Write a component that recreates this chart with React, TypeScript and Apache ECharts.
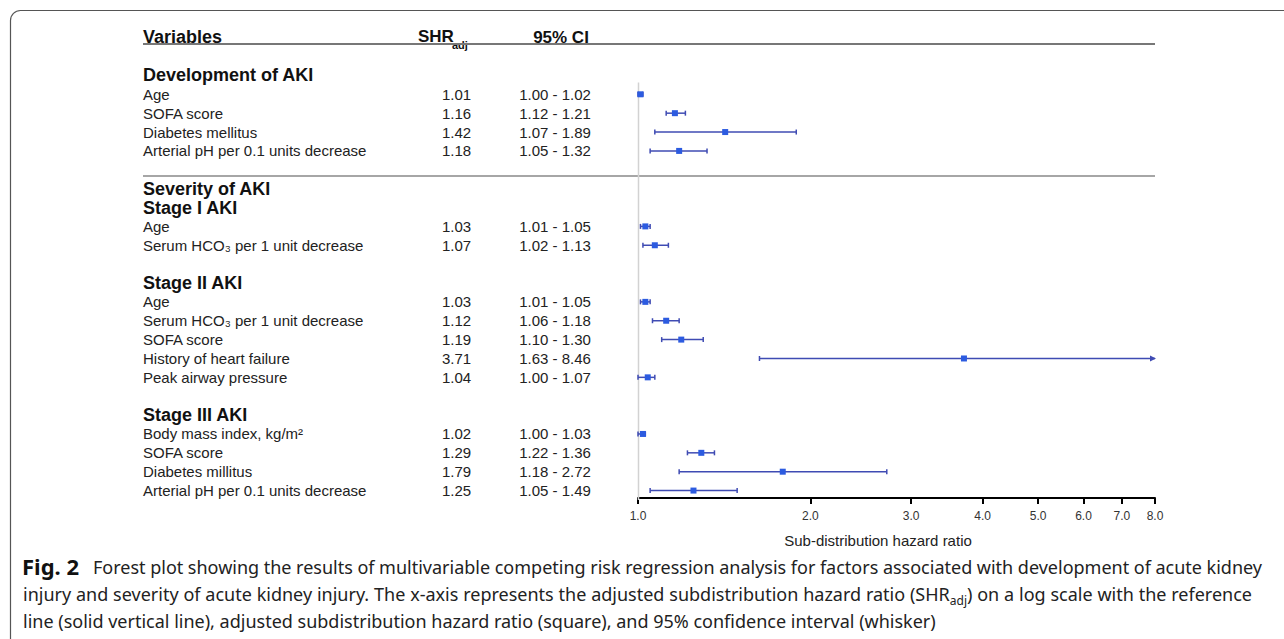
import React, { useEffect, useRef } from 'react';
import * as echarts from 'echarts';

const variables = [
  'Development of AKI', 'Age', 'SOFA score', 'Diabetes mellitus', 'Arterial pH per 0.1 units decrease', '',
  'Severity of AKI', 'Stage I AKI', 'Age', 'Serum HCO₃ per 1 unit decrease', '',
  'Stage II AKI', 'Age', 'Serum HCO₃ per 1 unit decrease', 'SOFA score', 'History of heart failure', 'Peak airway pressure', '',
  'Stage III AKI', 'Body mass index, kg/m²', 'SOFA score', 'Diabetes millitus', 'Arterial pH per 0.1 units decrease',
];
const rowKinds = ['h', 'v', 'v', 'v', 'v', 'b', 'h', 'h', 'v', 'v', 'b', 'h', 'v', 'v', 'v', 'v', 'v', 'b', 'h', 'v', 'v', 'v', 'v'];
const shrValues = [null, 1.01, 1.16, 1.42, 1.18, null, null, null, 1.03, 1.07, null, null, 1.03, 1.12, 1.19, 3.71, 1.04, null, null, 1.02, 1.29, 1.79, 1.25];
const ciLower = [null, 1.0, 1.12, 1.07, 1.05, null, null, null, 1.01, 1.02, null, null, 1.01, 1.06, 1.1, 1.63, 1.0, null, null, 1.0, 1.22, 1.18, 1.05];
const ciUpper = [null, 1.02, 1.21, 1.89, 1.32, null, null, null, 1.05, 1.13, null, null, 1.05, 1.18, 1.3, 8.46, 1.07, null, null, 1.03, 1.36, 2.72, 1.49];
const xTicks = [1, 2, 3, 4, 5, 6, 7, 8];

const captionFig = 'Fig. 2';
const captionLine1 = 'Forest plot showing the results of multivariable competing risk regression analysis for factors associated with development of acute kidney';
const captionLine2 = 'injury and severity of acute kidney injury. The x-axis represents the adjusted subdistribution hazard ratio (SHR_adj) on a log scale with the reference';
const captionLine3 = 'line (solid vertical line), adjusted subdistribution hazard ratio (square), and 95% confidence interval (whisker)';

const FONT = '"Liberation Sans", Arial, sans-serif';
const CAP_FAMILY = '"Noto Sans", "Open Sans", sans-serif';

export default function App() {
  const ref = useRef<HTMLDivElement>(null);
  useEffect(() => {
    document.body.style.margin = '0';
    if (!ref.current) return;
    const chart = echarts.init(ref.current, null, { renderer: 'svg' });

    // ---- caption layout (justified lines like the journal figure) ----
    const ctx = document.createElement('canvas').getContext('2d') as CanvasRenderingContext2D;
    const measure = (t: string, f: string) => { ctx.font = f; return ctx.measureText(t).width; };
    const fR = `18px ${CAP_FAMILY}`;
    const fB = `bold 22px ${CAP_FAMILY}`;
    const fS = `12px ${CAP_FAMILY}`;
    const capEls: any[] = [];
    const wordEl = (w: string, y: number) => {
      if (w.includes('_')) {
        const [a, b] = w.split('_');
        const i = b.indexOf(')');
        const sub = b.slice(0, i);
        const rest = b.slice(i);
        return {
          el: {
            type: 'text', x: 0, y,
            style: {
              text: `{r|${a}}{s|${sub}}{r|${rest}}`, verticalAlign: 'middle',
              rich: {
                r: { font: fR, fill: '#222', lineHeight: 24, verticalAlign: 'middle' },
                s: { font: fS, fill: '#222', lineHeight: 12, verticalAlign: 'bottom' },
              },
            },
          } as any,
          w: measure(a, fR) + measure(sub, fS) + measure(rest, fR),
        };
      }
      return {
        el: { type: 'text', x: 0, y, style: { text: w, font: fR, fill: '#222', verticalAlign: 'middle' } } as any,
        w: measure(w, fR),
      };
    };
    const justify = (words: string[], x0: number, x1: number, y: number) => {
      const items = words.map((w) => wordEl(w, y));
      const natural = items.reduce((s, it) => s + it.w, 0);
      const gap = (x1 - x0 - natural) / (items.length - 1);
      let x = x0;
      items.forEach((it) => { it.el.x = x; capEls.push(it.el); x += it.w + gap; });
    };
    capEls.push({ type: 'text', x: 22, y: 566, style: { text: captionFig, font: fB, fill: '#111', verticalAlign: 'middle' } });
    justify(captionLine1.split(' '), 93, 1262, 567);
    justify(captionLine2.split(' '), 23, 1252, 594);
    capEls.push({ type: 'text', x: 23, y: 621, style: { text: captionLine3, font: fR, fill: '#222', verticalAlign: 'middle' } });

    const cats = variables.map((_, i) => String(i));
    const forestData: number[][] = [];
    shrValues.forEach((v, i) => {
      if (v != null) forestData.push([Math.log2(v), i, ciLower[i] as number, ciUpper[i] as number]);
    });
    const lineColor = '#3f4bb3';
    const sqColor = '#2c5be0';
    const option: any = {
      animation: false,
      backgroundColor: '#fff',
      grid: { left: 638, right: 129, top: 66, height: 434 },
      xAxis: {
        type: 'value',
        min: 0,
        max: 3,
        offset: -2,
        splitLine: { show: false },
        axisLine: { show: true, lineStyle: { color: '#000', width: 2 } },
        axisTick: { show: true, length: 6, lineStyle: { color: '#000', width: 2 }, customValues: xTicks.map((t) => Math.log2(t)) },
        axisLabel: {
          customValues: xTicks.map((t) => Math.log2(t)),
          formatter: (v: number) => Math.pow(2, v).toFixed(1),
          fontFamily: FONT, fontSize: 12, color: '#333', margin: 12,
        },
        name: 'Sub-distribution hazard ratio',
        nameLocation: 'middle',
        nameGap: 35,
        nameTextStyle: { fontFamily: FONT, fontSize: 15, color: '#222', padding: [0, 37, 0, 0] },
      },
      yAxis: {
        type: 'category',
        inverse: true,
        data: cats,
        axisLine: { show: false },
        axisTick: { show: false },
        splitLine: { show: false },
        axisLabel: {
          interval: 0,
          align: 'left',
          margin: 495,
          formatter: (_: string, i: number) => {
            const k = rowKinds[i];
            if (k === 'b') return '';
            if (k === 'h') return `{h|${variables[i]}}`;
            return `{n|${variables[i]}}{s|${(shrValues[i] as number).toFixed(2)}}{c|${(ciLower[i] as number).toFixed(2)} - ${(ciUpper[i] as number).toFixed(2)}}`;
          },
          rich: {
            h: { fontFamily: FONT, fontSize: 18, fontWeight: 'bold', color: '#111' },
            n: { fontFamily: FONT, fontSize: 15, color: '#222', width: 282, align: 'left' },
            s: { fontFamily: FONT, fontSize: 15, color: '#222', width: 63, align: 'center' },
            c: { fontFamily: FONT, fontSize: 15, color: '#222', width: 134, align: 'center' },
          },
        },
      },
      series: [
        {
          type: 'custom',
          name: 'ref',
          data: [[0, 0]],
          clip: false,
          renderItem: (params: any, api: any) => {
            const cs = params.coordSys;
            const p = api.coord([0, 0]);
            return {
              type: 'line',
              shape: { x1: p[0] + 0.5, y1: p[1] + 7, x2: p[0] + 0.5, y2: cs.y + cs.height },
              style: { stroke: '#d2d2d2', lineWidth: 1.5 },
            };
          },
        },
        {
          type: 'custom',
          name: 'forest',
          data: forestData,
          clip: false,
          encode: { x: 0, y: 1 },
          renderItem: (params: any, api: any) => {
            const cs = params.coordSys;
            const idx = api.value(1);
            const p = api.coord([api.value(0), idx]);
            const y = p[1];
            const lx = api.coord([Math.log2(api.value(2)), idx])[0];
            const hxRaw = api.coord([Math.log2(api.value(3)), idx])[0];
            const right = cs.x + cs.width;
            const over = hxRaw > right;
            const hx = Math.min(hxRaw, right);
            const ls = { stroke: lineColor, lineWidth: 1.5 };
            const children: any[] = [
              { type: 'line', shape: { x1: lx, y1: y, x2: hx, y2: y }, style: ls },
              { type: 'line', shape: { x1: lx, y1: y - 2.5, x2: lx, y2: y + 2.5 }, style: ls },
            ];
            if (over) {
              children.push({ type: 'polygon', shape: { points: [[hx - 5, y - 3], [hx + 1, y], [hx - 5, y + 3]] }, style: { fill: lineColor } });
            } else {
              children.push({ type: 'line', shape: { x1: hx, y1: y - 2.5, x2: hx, y2: y + 2.5 }, style: ls });
            }
            children.push({ type: 'rect', shape: { x: p[0] - 3, y: y - 3, width: 6, height: 6 }, style: { fill: sqColor } });
            return { type: 'group', children };
          },
        },
      ],
      graphic: [
        { type: 'rect', silent: true, shape: { x: 10.5, y: 10.5, width: 1320, height: 660, r: 10 }, style: { fill: 'none', stroke: '#555', lineWidth: 1.2 } },
        { type: 'text', x: 143, y: 37, style: { text: 'Variables', font: `bold 18px ${FONT}`, fill: '#111', verticalAlign: 'middle' } },
        { type: 'text', x: 418, y: 36, style: { text: 'SHR', font: `bold 17px ${FONT}`, fill: '#111', verticalAlign: 'middle' } },
        { type: 'text', x: 452, y: 45, style: { text: 'adj', font: `bold 11px ${FONT}`, fill: '#111', verticalAlign: 'middle' } },
        { type: 'text', x: 561, y: 37, style: { text: '95% CI', font: `bold 17px ${FONT}`, fill: '#111', align: 'center', verticalAlign: 'middle' } },
        { type: 'line', shape: { x1: 143, y1: 44, x2: 1155, y2: 44 }, style: { stroke: '#777', lineWidth: 2 } },
        { type: 'line', shape: { x1: 143, y1: 176, x2: 1155, y2: 176 }, style: { stroke: '#888', lineWidth: 1.5 } },
        ...capEls,
      ],
    };
    chart.setOption(option);
    return () => chart.dispose();
  }, []);
  return <div ref={ref} style={{ width: 1284, height: 639 }} />;
}
